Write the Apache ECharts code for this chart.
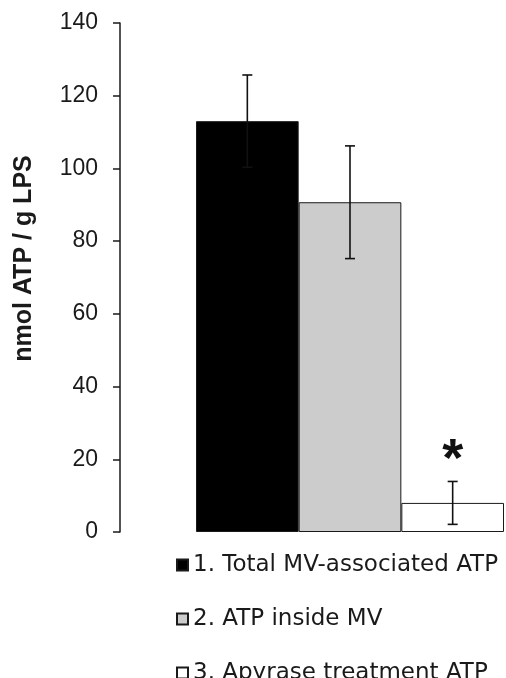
<!DOCTYPE html>
<html>
<head>
<meta charset="utf-8">
<script src="https://cdn.jsdelivr.net/npm/echarts@6/dist/echarts.min.js"></script>
<style>
	html, body { margin: 0; padding: 0; background: #fff; }
	#chart { width: 506px; height: 678px; }
</style>
</head>
<body>
<div id="chart"></div>
<script>
	// values
	const categories = ['1. Total MV-associated ATP', '2. ATP inside MV', '3. Apyrase treatment ATP']
	const means = [113, 90.7, 8]
	const errors = [12.7, 15.5, 5.9]
	const marks = ['', '', '*']
	const barColors = ['#000000', '#cccccc', '#ffffff']
	const yMin = 0
	const yMax = 140
	const yStep = 20

	const chart = echarts.init(document.getElementById('chart'))

	const barSeries = categories.map((name, i) => ({
		name: name,
		type: 'bar',
		data: [means[i]],
		barGap: '0%',
		barCategoryGap: '0%',
		itemStyle: {
			color: barColors[i],
			borderColor: '#1a1a1a',
			borderWidth: 1
		},
		emphasis: { disabled: true },
		animation: false
	}))

	// one legend per entry so the last one is not wrapped away at the bottom edge
	const legends = categories.map((name, i) => ({
		orient: 'vertical',
		left: 176,
		top: 553.5 + i * 54,
		padding: 0,
		itemWidth: 11,
		itemHeight: 11,
		icon: 'rect',
		selectedMode: false,
		data: [name],
		textStyle: {
			fontFamily: 'DejaVu Sans',
			fontSize: 23,
			color: '#1a1a1a'
		}
	}))

	const errData = means.map((m, i) => [0, m - errors[i], m + errors[i], i, marks[i]])

	chart.setOption({
		grid: {
			left: 196,
			right: 2,
			top: 23,
			bottom: 146
		},
		legend: legends,
		xAxis: {
			type: 'category',
			data: [''],
			axisLine: { show: false },
			axisTick: { show: false },
			axisLabel: { show: false }
		},
		yAxis: {
			type: 'value',
			min: yMin,
			max: yMax,
			interval: yStep,
			offset: 76,
			name: 'nmol ATP / g LPS',
			nameLocation: 'middle',
			nameGap: 83,
			nameTextStyle: {
				fontFamily: 'Liberation Sans',
				fontWeight: 'bold',
				fontSize: 25,
				color: '#1a1a1a',
				padding: [0, 0, 0, 38]
			},
			axisLine: {
				show: true,
				lineStyle: { color: '#1a1a1a', width: 1.5 }
			},
			axisTick: {
				show: true,
				length: 7,
				lineStyle: { color: '#1a1a1a', width: 1.5 }
			},
			axisLabel: {
				fontFamily: 'Liberation Sans',
				fontSize: 23,
				color: '#1a1a1a',
				margin: 22
			},
			splitLine: { show: false }
		},
		series: barSeries.concat([{
			type: 'custom',
			z: 5,
			silent: true,
			animation: false,
			data: errData,
			encode: { x: 0, y: [1, 2] },
			renderItem: function (params, api) {
				const idx = api.value(3)
				const mark = errData[params.dataIndex][4]
				const band = api.size([1, 0])[0]
				const lo = api.coord([0, api.value(1)])
				const hi = api.coord([0, api.value(2)])
				const x = lo[0] + (idx - 1) * band / 3
				const half = 5
				const style = { stroke: '#111', lineWidth: 1.6 }
				const children = [
					{ type: 'line', shape: { x1: x, y1: lo[1], x2: x, y2: hi[1] }, style: style },
					{ type: 'line', shape: { x1: x - half, y1: hi[1], x2: x + half, y2: hi[1] }, style: style },
					{ type: 'line', shape: { x1: x - half, y1: lo[1], x2: x + half, y2: lo[1] }, style: style }
				]
				if (mark) {
					children.push({
						type: 'text',
						x: x,
						y: hi[1] + 7,
						style: {
							text: mark,
							fill: '#111',
							font: 'bold 54px "Liberation Sans"',
							textAlign: 'center',
							textVerticalAlign: 'bottom'
						}
					})
				}
				return { type: 'group', children: children }
			}
		}])
	})
</script>
</body>
</html>
